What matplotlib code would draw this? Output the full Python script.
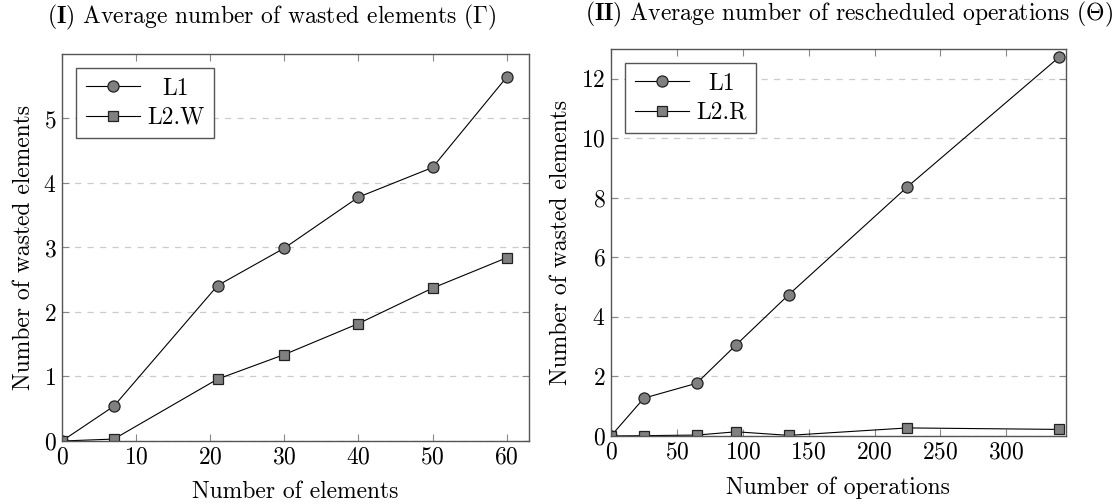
import matplotlib
matplotlib.use('Agg')
import matplotlib.pyplot as plt

plt.rcParams['font.family'] = ['cmr10', 'DejaVu Serif']
plt.rcParams['mathtext.fontset'] = 'cm'
plt.rcParams['axes.formatter.use_mathtext'] = True

# (I) wasted elements
elements = [0, 7, 21, 30, 40, 50, 60]
l1_wasted = [0, 0.54, 2.41, 2.99, 3.78, 4.24, 5.64]
l2w_wasted = [0, 0.03, 0.96, 1.34, 1.82, 2.37, 2.84]

# (II) rescheduled operations
operations = [0, 25, 65, 95, 135, 225, 340]
l1_resched = [0, 1.27, 1.77, 3.06, 4.75, 8.37, 12.72]
l2r_resched = [0, 0.01, 0.03, 0.14, 0.02, 0.27, 0.22]

fig = plt.figure(figsize=(11.17, 5.04), dpi=100)
ax1 = fig.add_axes([0.0555, 0.125, 0.418, 0.768])
ax2 = fig.add_axes([0.547, 0.135, 0.407, 0.768])

fill = '#808080'
fs = 17

def style(ax, xlim, ylim, xticks, yticks, xlabel, ylabel):
    ax.set_xlim(*xlim)
    ax.set_ylim(*ylim)
    ax.set_xticks(xticks)
    ax.set_yticks(yticks)
    ax.set_xlabel(xlabel, fontsize=fs, labelpad=9)
    ax.set_ylabel(ylabel, fontsize=fs, labelpad=6)
    ax.tick_params(direction='in', top=True, right=True, length=5, width=0.8,
                   color='#888888', labelsize=fs, pad=4)
    for s in ax.spines.values():
        s.set_color('#555555')
        s.set_linewidth(1.0)
    ax.yaxis.grid(True, linestyle=(0, (5, 5)), color='#cccccc', linewidth=0.9)
    ax.set_axisbelow(True)
    leg = ax.legend(loc='upper left', fontsize=fs, frameon=True, fancybox=False,
                    framealpha=1, edgecolor='#555555', handlelength=2.3,
                    borderpad=0.4, labelspacing=0.3, handletextpad=0.3,
                    borderaxespad=0.6)
    leg.get_frame().set_linewidth(1.0)
    # centre the shorter label in the text column, like pgfplots does
    fig.canvas.draw()
    texts = leg.get_texts()
    widths = [t.get_window_extent().width for t in texts]
    wmax = max(widths)
    for t, w in zip(texts, widths):
        t.set_ha('center')
        t.set_position((wmax / 2 - w / 2, 0))

kw = dict(color='black', linewidth=0.8, markerfacecolor=fill,
          markeredgecolor='#222222', markeredgewidth=0.9)

ax1.plot(elements, l1_wasted, marker='o', markersize=8, label='L1', **kw)
ax1.plot(elements, l2w_wasted, marker='s', markersize=7.5, label='L2.W', **kw)
style(ax1, (0, 63), (0, 6), range(0, 61, 10), range(0, 6),
      'Number of elements', 'Number of wasted elements')

ax2.plot(operations, l1_resched, marker='o', markersize=8, label='L1', **kw)
ax2.plot(operations, l2r_resched, marker='s', markersize=7.5, label='L2.R', **kw)
style(ax2, (0, 345), (0, 13), range(0, 301, 50), range(0, 13, 2),
      'Number of operations', 'Number of wasted elements')

fig.text(0.243, 0.965, r'$\mathbf{(I)}$ Average number of wasted elements $(\Gamma)$',
         ha='center', va='center', fontsize=fs)
fig.text(0.76, 0.972, r'$\mathbf{(II)}$ Average number of rescheduled operations $(\Theta)$',
         ha='center', va='center', fontsize=fs)

fig.savefig('out.png', dpi=100)
